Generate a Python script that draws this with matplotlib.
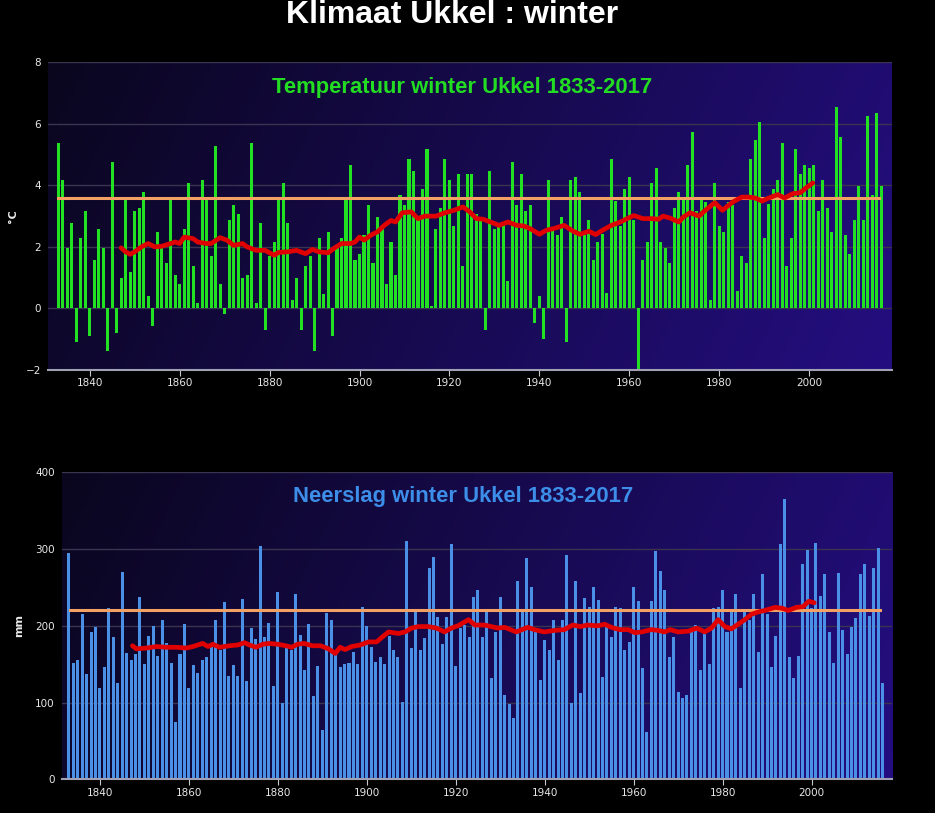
import numpy as np
import matplotlib
matplotlib.use("Agg")
import matplotlib.pyplot as plt

# winter (DJF) values, labelled by the December year
years = np.arange(1833, 2017)

temp = [5.37, 4.16, 1.97, 2.78, -1.10, 2.29, 3.17, -0.90, 1.58, 2.58,
        1.97, -1.38, 4.76, -0.81, 0.99, 3.57, 1.19, 3.17, 3.26, 3.78,
        0.39, -0.57, 2.49, 1.97, 1.49, 3.57, 1.09, 0.80, 2.58, 4.08,
        1.37, 0.18, 4.17, 3.57, 1.69, 5.28, 0.80, -0.19, 2.88, 3.36,
        3.07, 0.99, 1.09, 5.37, 0.18, 2.78, -0.71, 1.69, 2.17, 3.57,
        4.08, 2.78, 0.29, 0.99, -0.71, 1.38, 1.69, -1.38, 2.29, 0.48,
        2.49, -0.90, 1.97, 2.29, 3.55, 4.67, 1.59, 1.77, 2.38, 3.37,
        1.49, 2.97, 2.58, 0.80, 2.17, 1.10, 3.70, 3.37, 4.85, 4.46,
        2.88, 3.89, 5.18, 0.09, 2.58, 3.26, 4.85, 4.17, 2.68, 4.37,
        1.38, 4.37, 4.37, 3.07, 2.97, -0.71, 4.46, 2.58, 2.68, 2.78,
        0.90, 4.76, 3.37, 4.37, 3.17, 3.37, -0.48, 0.39, -1.00, 4.18,
        2.54, 2.40, 2.97, -1.10, 4.18, 4.27, 3.78, 2.40, 2.89, 1.59,
        2.16, 2.41, 0.49, 4.86, 3.48, 2.67, 3.89, 4.27, 2.89, -2.05,
        1.59, 2.16, 4.08, 4.56, 2.17, 1.97, 1.49, 3.26, 3.78, 3.57,
        4.67, 5.75, 3.17, 3.57, 3.46, 0.29, 4.08, 2.68, 2.49, 3.46,
        3.37, 0.58, 1.69, 1.49, 4.85, 5.47, 6.05, 2.29, 3.41, 3.89,
        4.17, 5.37, 1.38, 2.29, 5.17, 4.37, 4.65, 4.56, 4.65, 3.17,
        4.17, 3.26, 2.49, 6.56, 5.57, 2.38, 1.77, 2.88, 3.98, 2.88,
        6.25, 3.70, 6.35, 3.98]

precip = [295, 152, 155, 215, 137, 192, 198, 119, 146, 223,
          186, 126, 270, 164, 155, 163, 238, 150, 187, 200,
          161, 207, 177, 152, 75, 163, 202, 119, 149, 138,
          156, 160, 172, 208, 168, 231, 134, 149, 135, 235,
          128, 197, 183, 304, 186, 203, 121, 244, 99, 171,
          168, 241, 188, 143, 202, 108, 147, 64, 217, 208,
          162, 146, 150, 152, 166, 150, 225, 200, 173, 153,
          159, 150, 187, 168, 159, 101, 310, 171, 219, 169,
          184, 275, 289, 211, 176, 211, 307, 147, 197, 201,
          185, 238, 246, 185, 218, 132, 192, 237, 110, 98,
          80, 258, 218, 288, 250, 192, 129, 182, 168, 208,
          156, 207, 292, 99, 259, 113, 236, 225, 251, 233,
          133, 198, 185, 224, 223, 169, 179, 250, 232, 145,
          61, 232, 298, 271, 247, 160, 185, 114, 106, 110,
          192, 201, 142, 192, 150, 223, 224, 247, 192, 218,
          242, 119, 221, 208, 241, 166, 268, 215, 146, 187,
          307, 365, 160, 132, 161, 281, 299, 223, 308, 239,
          267, 192, 152, 269, 194, 163, 199, 210, 267, 281,
          213, 275, 301, 126]

# 30-year running mean (red)
trend_t_years = [1847, 1848, 1849, 1850, 1851.5, 1853, 1854.5, 1856, 1858, 1859,
                 1860, 1861, 1863, 1864, 1866, 1867, 1869, 1870.5, 1872, 1874,
                 1875, 1877, 1879, 1881, 1882, 1884, 1886, 1888, 1889.5, 1891,
                 1893, 1894.5, 1896, 1898, 1899, 1900, 1901, 1902.5, 1904, 1905.5,
                 1907, 1908, 1909.5, 1911.5, 1913, 1914.5, 1917, 1919, 1921, 1923,
                 1924.5, 1926, 1927.5, 1930, 1931, 1933, 1935, 1936.5, 1938, 1940,
                 1941.5, 1943, 1945.5, 1947.5, 1949, 1951, 1952.5, 1954, 1956, 1958,
                 1959.5, 1961, 1963, 1965, 1966.5, 1967.5, 1969, 1971, 1972, 1973.5,
                 1975.5, 1976.5, 1979, 1980.7, 1983, 1985, 1986.5, 1988, 1989.5, 1991,
                 1993, 1994.5, 1996.3, 1998, 1999.3, 2000.8]
trend_t = [1.97, 1.84, 1.76, 1.84, 2.00, 2.11, 2.00, 2.02, 2.11, 2.16,
           2.11, 2.32, 2.27, 2.16, 2.11, 2.11, 2.30, 2.22, 2.05, 2.11,
           2.00, 1.89, 1.89, 1.73, 1.82, 1.84, 1.89, 1.78, 1.92, 1.84,
           1.81, 1.97, 2.11, 2.11, 2.16, 2.32, 2.22, 2.38, 2.49, 2.70,
           2.86, 2.81, 3.11, 3.14, 2.92, 3.00, 3.00, 3.11, 3.19, 3.30,
           3.14, 2.92, 2.90, 2.76, 2.70, 2.81, 2.70, 2.68, 2.59, 2.41,
           2.54, 2.59, 2.70, 2.51, 2.41, 2.51, 2.40, 2.54, 2.70, 2.81,
           2.92, 3.02, 2.92, 2.92, 2.90, 3.00, 2.94, 2.81, 2.97, 3.11,
           3.00, 3.14, 3.44, 3.19, 3.46, 3.62, 3.62, 3.59, 3.49, 3.59,
           3.70, 3.59, 3.73, 3.76, 3.92, 4.08]

trend_p_years = [1847.3, 1848.2, 1850.4, 1852.7, 1854.9, 1857.2, 1859.4, 1860.9, 1863.1, 1864.3,
                 1865.4, 1866.9, 1869.1, 1871, 1872.5, 1873.6, 1875.1, 1876.6, 1878.1, 1879.9,
                 1881.8, 1883.1, 1884.4, 1885.9, 1887.8, 1889.6, 1891.4, 1892.9, 1894, 1895.1,
                 1896.6, 1898.5, 1900.4, 1902.2, 1903.4, 1904.9, 1907.1, 1908.6, 1910.1, 1911.6,
                 1913.8, 1915.7, 1917.5, 1919, 1920.5, 1922, 1922.9, 1924.3, 1926.5, 1928,
                 1929.5, 1931, 1933.6, 1936.2, 1937.7, 1939.9, 1942.2, 1944.4, 1946.3, 1948.1,
                 1949.6, 1951.9, 1953.5, 1955, 1956.9, 1958.8, 1960.3, 1961.8, 1964, 1965.5,
                 1967, 1968.2, 1970, 1972.3, 1974.2, 1976, 1977.5, 1979, 1980.5, 1982,
                 1983.5, 1985, 1986.5, 1988, 1989.5, 1991.8, 1993.3, 1994.8, 1996.6, 1998.1,
                 1999.4, 2000.6]
trend_p = [174, 170, 171, 173, 172, 172, 171, 173, 177, 173,
           176, 172, 174, 175, 178, 175, 172, 176, 177, 176,
           174, 172, 176, 177, 174, 174, 170, 164, 172, 169,
           173, 175, 179, 179, 185, 192, 190, 192, 197, 199,
           199, 197, 192, 197, 200, 205, 208, 201, 201, 199,
           197, 198, 192, 198, 195, 192, 194, 195, 201, 199,
           201, 200, 202, 198, 195, 195, 191, 192, 195, 194,
           192, 195, 192, 193, 197, 192, 197, 208, 199, 196,
           202, 208, 215, 218, 220, 224, 223, 220, 224, 225,
           232, 230]

temp_norm = 3.6
precip_norm = 221

W, H = 935, 813
fig = plt.figure(figsize=(W / 100, H / 100), dpi=100, facecolor="black")

c_left = np.array([10, 6, 30]) / 255
c_right = np.array([36, 14, 128]) / 255
gx = np.linspace(0, 1, 256)
gy = np.linspace(0, 1, 64)
GX, GY = np.meshgrid(gx, gy)
tt = np.clip(0.85 * GX + 0.15 * GY, 0, 1)[..., None]
grad = c_left * (1 - tt) + c_right * tt


def style_axes(ax, ylim, yticks, xlim):
    ax.set_facecolor("black")
    ax.imshow(grad, extent=(0, 1, 0, 1), transform=ax.transAxes,
              aspect="auto", zorder=0, origin="upper")
    ax.set_xlim(*xlim)
    ax.set_ylim(*ylim)
    ax.set_yticks(yticks)
    ax.set_xticks(range(1840, 2001, 20))
    for s in ("left", "right", "top"):
        ax.spines[s].set_visible(False)
    ax.spines["bottom"].set_color("#a0a0b4")
    ax.spines["bottom"].set_linewidth(1.5)
    ax.spines["bottom"].set_zorder(6)
    ax.tick_params(axis="y", length=0, pad=5, colors="#e8e8e8", labelsize=7.5)
    ax.tick_params(axis="x", length=4, width=0.8, color="#c8c8d0", pad=2,
                   colors="#e8e8e8", labelsize=7.5)
    ax.grid(axis="y", color="#3a3450", linewidth=1, zorder=1)
    ax.set_axisbelow(False)
    for gl in ax.get_ygridlines():
        gl.set_zorder(1)


# temperature panel
ax1 = fig.add_axes([48.3 / W, 1 - 370 / H, (892 - 48.3) / W, (370 - 62.3) / H])
style_axes(ax1, (-2, 8), range(-2, 9, 2), (1830.8, 2018.4))
ax1.bar(years, temp, width=0.68, color="#22e022", zorder=3)
ax1.axhline(temp_norm, color="#f3a064", lw=2.2, zorder=4,
            xmin=0.012, xmax=0.985)
ax1.plot(trend_t_years, trend_t, color="#e00000", lw=3.4, zorder=5,
         solid_joinstyle="round", solid_capstyle="round")
ax1.set_ylabel("°C", color="#e8e8e8", fontsize=8, fontweight="bold", labelpad=6)
ax1.text(0.49, 0.901, "Temperatuur winter Ukkel 1833-2017", transform=ax1.transAxes,
         ha="center", va="baseline", color="#22dd22", fontsize=15.8,
         fontweight="bold", family="Liberation Sans", zorder=7)

# precipitation panel
ax2 = fig.add_axes([61.7 / W, 1 - 779.3 / H, (892 - 61.7) / W, (779.3 - 472.3) / H])
style_axes(ax2, (0, 400), range(0, 401, 100), (1831.4, 2018.1))
ax2.bar(years, precip, width=0.68, color="#4990e6", zorder=3)
ax2.axhline(precip_norm, color="#f3a064", lw=2.2, zorder=4,
            xmin=0.01, xmax=0.985)
ax2.plot(trend_p_years, trend_p, color="#e00000", lw=3.4, zorder=5,
         solid_joinstyle="round", solid_capstyle="round")
ax2.set_ylabel("mm", color="#e8e8e8", fontsize=8, fontweight="bold", labelpad=8)
ax2.text(0.483, 0.904, "Neerslag winter Ukkel 1833-2017", transform=ax2.transAxes,
         ha="center", va="baseline", color="#3d8ee8", fontsize=15.8,
         fontweight="bold", family="Liberation Sans", zorder=7)

fig.text(452 / W, 1 - 23 / H, "Klimaat Ukkel : winter", ha="center", va="baseline",
         color="white", fontsize=23, fontweight="bold", family="Liberation Sans")

fig.savefig("out.png", dpi=100, facecolor="black")
